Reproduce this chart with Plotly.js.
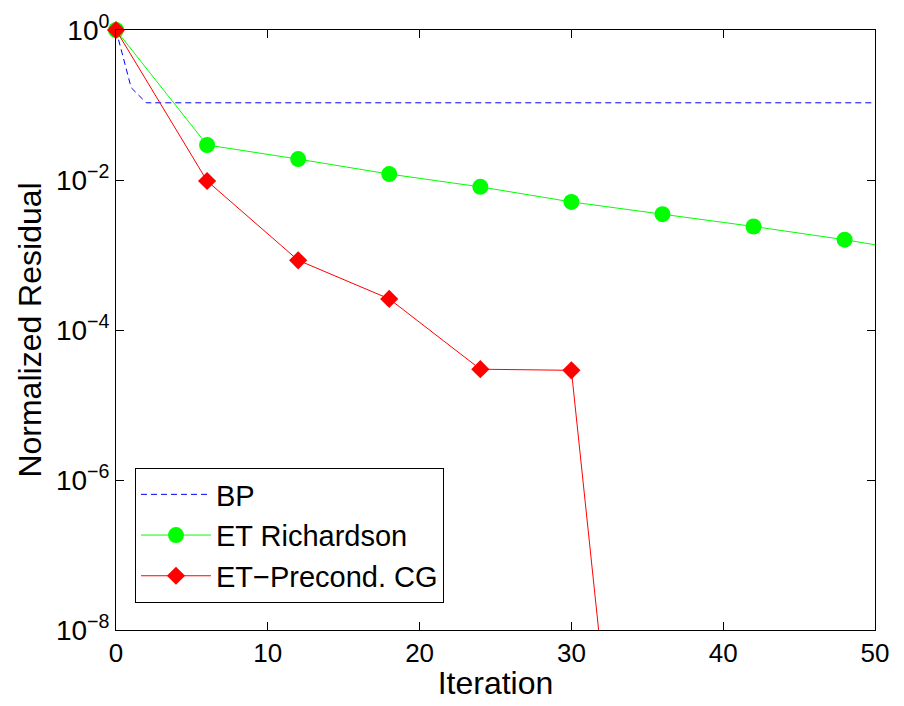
<!DOCTYPE html>
<html>
<head>
<meta charset="utf-8">
<script src="https://cdn.plot.ly/plotly-3.0.1.min.js"></script>
<style>
html,body{margin:0;padding:0;background:#fff;}
#chart{width:904px;height:706px;}
</style>
</head>
<body>
<div id="chart"></div>
<script>
// ---- data ----
const bpIter = [0, 1, 2, 10, 20, 30, 40, 50];
const bpResidual = [1, 0.17, 0.107, 0.107, 0.107, 0.107, 0.107, 0.107];

const richIter = [0, 6, 12, 18, 24, 30, 36, 42, 48];
const richResidual = [1, 0.0293, 0.019, 0.012, 0.0081, 0.0051, 0.0035, 0.0024, 0.0016];
const richTailIter = [48, 50];
const richTailResidual = [0.0016, 0.00137];

const cgIter = [0, 6, 12, 18, 24, 30];
const cgResidual = [1, 0.0097, 0.00085, 0.00026, 3.0e-5, 2.9e-5];
const cgTailIter = [30, 32];
const cgTailResidual = [2.9e-5, 4e-9];

const xTicks = [0, 10, 20, 30, 40, 50];
const yTickVals = [1e-8, 1e-6, 1e-4, 1e-2, 1];
const yTickText = ['10<sup>\u22128</sup>', '10<sup>\u22126</sup>', '10<sup>\u22124</sup>', '10<sup>\u22122</sup>', '10<sup>0</sup>'];

const seriesNames = ['BP', 'ET Richardson', 'ET\u2212Precond. CG'];

// ---- traces ----
const traces = [
  {
    x: bpIter, y: bpResidual, name: seriesNames[0], mode: 'lines',
    line: {color: '#0000ff', width: 1, dash: '6px,4px'}, legendgroup: 'bp'
  },
  {
    x: richTailIter, y: richTailResidual, mode: 'lines', showlegend: false,
    line: {color: '#00ff00', width: 1}, legendgroup: 'rich', hoverinfo: 'skip'
  },
  {
    x: richIter, y: richResidual, name: seriesNames[1], mode: 'lines+markers',
    line: {color: '#00ff00', width: 1},
    marker: {symbol: 'circle', size: 16, color: '#00ff00'},
    cliponaxis: false, legendgroup: 'rich'
  },
  {
    x: cgTailIter, y: cgTailResidual, mode: 'lines', showlegend: false,
    line: {color: '#ff0000', width: 1}, legendgroup: 'cg', hoverinfo: 'skip'
  },
  {
    x: cgIter, y: cgResidual, name: seriesNames[2], mode: 'lines+markers',
    line: {color: '#ff0000', width: 1},
    marker: {symbol: 'diamond', size: 14, color: '#ff0000'},
    cliponaxis: false, legendgroup: 'cg'
  }
];

const fontFam = '"Liberation Sans", Arial, Helvetica, sans-serif';

const layout = {
  width: 904, height: 706,
  margin: {l: 116, r: 29, t: 30, b: 76, pad: 0},
  paper_bgcolor: '#ffffff', plot_bgcolor: '#ffffff',
  font: {family: fontFam, color: '#000000', size: 26},
  showlegend: true,
  xaxis: {
    range: [0, 50], tickvals: xTicks, ticks: 'inside', ticklen: 8, tickwidth: 1,
    tickcolor: '#000', showline: true, linecolor: '#000', linewidth: 1, mirror: 'ticks',
    showgrid: false, zeroline: false,
    tickfont: {family: fontFam, size: 26, color: '#000'},
    title: {text: 'Iteration', font: {family: fontFam, size: 32, color: '#000'}, standoff: 4}
  },
  yaxis: {
    type: 'log', range: [-8, 0], tickvals: yTickVals, ticktext: yTickText,
    ticks: 'inside', ticklen: 8, tickwidth: 1, tickcolor: '#000',
    showline: true, linecolor: '#000', linewidth: 1, mirror: 'ticks',
    showgrid: false, zeroline: false,
    tickfont: {family: fontFam, size: 28, color: '#000'},
    title: {text: 'Normalized Residual', font: {family: fontFam, size: 32, color: '#000'}, standoff: 4}
  },
  legend: {
    x: 0.025, y: 0.045, xanchor: 'left', yanchor: 'bottom',
    bgcolor: '#ffffff', bordercolor: '#000000', borderwidth: 1,
    font: {family: fontFam, size: 29, color: '#000'},
    itemwidth: 70, tracegroupgap: 0
  }
};

Plotly.newPlot('chart', traces, layout, {displayModeBar: false, staticPlot: true});
</script>
</body>
</html>
